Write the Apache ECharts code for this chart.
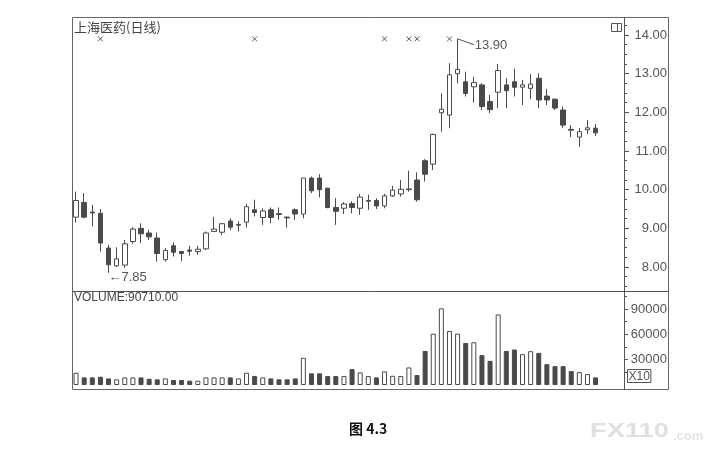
<!DOCTYPE html>
<html>
<head>
<meta charset="utf-8">
<script src="https://cdn.jsdelivr.net/npm/echarts@6/dist/echarts.min.js"></script>
<style>html,body{margin:0;padding:0;background:#fff;}#c{width:712px;height:459px;}</style>
</head>
<body>
<div id="c"></div>
<script>
// ---- data ----
var opens  = [9.29,9.67,9.42,9.39,8.49,8.03,8.05,8.66,9.00,8.88,8.75,8.19,8.55,8.40,8.44,8.40,8.47,8.92,8.90,9.19,9.08,9.16,9.48,9.28,9.48,9.38,9.29,9.48,9.37,10.30,10.30,10.04,9.54,9.52,9.64,9.52,9.70,9.72,9.58,9.84,9.89,10.00,10.25,10.75,10.66,11.99,11.93,13.00,12.79,12.66,12.71,12.28,12.52,12.71,12.79,12.65,12.62,12.88,12.42,12.34,12.06,11.56,11.36,11.55,11.59];
var closes = [9.72,9.29,9.40,8.62,8.06,8.21,8.60,8.98,8.86,8.78,8.35,8.43,8.38,8.35,8.41,8.46,8.88,8.98,9.12,9.03,9.10,9.56,9.41,9.45,9.28,9.36,9.27,9.37,10.30,9.97,10.00,9.54,9.44,9.63,9.54,9.81,9.72,9.58,9.84,9.99,10.01,10.02,9.74,10.40,11.43,12.08,12.97,13.11,12.49,12.77,12.15,12.07,13.08,12.56,12.65,12.71,12.73,12.32,12.32,12.11,11.67,11.54,11.50,11.60,11.47];
var lows   = [9.15,9.26,9.05,8.40,7.85,8.00,7.98,8.60,8.62,8.70,8.14,8.14,8.27,8.15,8.29,8.32,8.44,8.92,8.83,8.96,8.92,9.02,9.31,9.09,9.13,9.22,9.02,9.22,9.26,9.91,9.80,9.52,9.09,9.37,9.39,9.35,9.48,9.50,9.52,9.81,9.82,9.95,9.69,10.21,10.51,11.50,11.59,12.75,12.41,12.25,12.06,11.98,12.11,12.11,12.41,12.19,12.34,12.11,12.19,12.06,11.59,11.36,11.11,11.44,11.39];
var highs  = [9.95,9.91,9.61,9.50,8.57,8.51,8.70,9.03,9.13,8.96,8.89,8.49,8.64,8.41,8.55,8.55,8.92,9.30,9.13,9.26,9.18,9.63,9.74,9.52,9.54,9.54,9.31,9.52,10.30,10.34,10.40,10.05,9.78,9.68,9.70,9.89,9.87,9.78,9.89,10.10,10.25,10.49,10.45,10.79,11.45,12.49,13.27,13.90,13.05,12.92,12.75,12.45,13.25,12.88,13.13,12.84,12.99,13.01,12.60,12.36,12.15,11.67,11.59,11.80,11.70];
var volumes = [14500,9000,9000,9800,7800,6700,9000,9000,9000,7400,6700,7800,5900,5900,5100,5100,9000,9000,9000,9000,7800,14500,10600,9000,7800,6700,6700,7800,32100,13800,13800,10600,10600,10600,18800,14900,10600,9000,16100,10900,10600,20800,11800,40300,60800,90710,63900,60800,49800,50600,35300,28600,83500,40300,42000,36500,40000,38000,24700,22300,22300,16500,15300,12900,9000];
var emptySlots = 3;               // blank days at the right edge of the chart
var markerDays = [3,22,38,41,42,46]; // "×" info markers
var markerLevel = 13.90;
var highDay = 47, highValue = 13.90, lowDay = 4, lowValue = 7.85;
var priceTicks = [8,9,10,11,12,13,14];
var priceMinorTicks = [7.5,7.75,8.25,8.5,8.75,9.25,9.5,9.75,10.25,10.5,10.75,11.25,11.5,11.75,12.25,12.5,12.75,13.25,13.5,13.75,14.25];
var volumeTicks = [30000,60000,90000];
var volumeMinorTicks = [15000,45000,75000,105000];
var priceMin = 7.38, priceMax = 14.4655;
var volumeMax = 111300;

// ---- build ----
var days = [];
for (var i = 0; i < opens.length + emptySlots; i++) days.push(String(i + 1));
var candleData = opens.map(function (o, i) { return [o, closes[i], lows[i], highs[i]]; });
var INK = '#4a4a4a';
var volData = volumes.map(function (v, i) {
  var up = closes[i] >= opens[i];
  return { value: v, itemStyle: { color: up ? '#ffffff' : INK, borderColor: INK, borderWidth: 1 } };
});
var markerData = markerDays.map(function (d) { return [d, markerLevel]; });

var FONT = '"Liberation Sans", Arial, sans-serif';
var chart = echarts.init(document.getElementById('c'));
chart.setOption({
  animation: false,
  backgroundColor: '#fff',
  grid: [
    { left: 72, right: 88, top: 17, height: 274 },
    { left: 72, right: 88, top: 291, height: 94 }
  ],
  xAxis: [
    { type: 'category', gridIndex: 0, data: days, show: false },
    { type: 'category', gridIndex: 1, data: days, show: false }
  ],
  yAxis: [
    { type: 'value', gridIndex: 0, position: 'right', min: priceMin, max: priceMax,
      axisLine: { show: false }, splitLine: { show: false },
      axisTick: { show: true, length: 5, customValues: priceTicks, lineStyle: { color: '#555' } },
      axisLabel: { show: true, customValues: priceTicks, align: 'right', margin: 43, color: '#555',
        fontSize: 13, fontFamily: FONT, formatter: function (v) { return v.toFixed(2); } } },
    { type: 'value', gridIndex: 0, position: 'right', min: priceMin, max: priceMax,
      axisLine: { show: false }, splitLine: { show: false }, axisLabel: { show: false },
      axisTick: { show: true, length: 3, customValues: priceMinorTicks, lineStyle: { color: '#555' } } },
    { type: 'value', gridIndex: 1, position: 'right', min: 0, max: volumeMax,
      axisLine: { show: false }, splitLine: { show: false },
      axisTick: { show: true, length: 4, customValues: volumeTicks, lineStyle: { color: '#555' } },
      axisLabel: { show: true, customValues: volumeTicks, align: 'right', margin: 43, color: '#555',
        fontSize: 13, fontFamily: FONT, formatter: function (v) { return String(v); } } },
    { type: 'value', gridIndex: 1, position: 'right', min: 0, max: volumeMax,
      axisLine: { show: false }, splitLine: { show: false }, axisLabel: { show: false },
      axisTick: { show: true, length: 3, customValues: volumeMinorTicks, lineStyle: { color: '#555' } } }
  ],
  series: [
    { type: 'candlestick', xAxisIndex: 0, yAxisIndex: 0, data: candleData, barWidth: 5,
      itemStyle: { color: '#ffffff', color0: INK, borderColor: INK, borderColor0: INK, borderWidth: 1 },
      markPoint: {
        symbol: 'circle', symbolSize: 0,
        data: [{ coord: [lowDay, lowValue], label: { show: true, position: 'right', distance: 0, offset: [0, 5],
          formatter: '\u2190' + lowValue.toFixed(2), color: '#555', fontSize: 13, fontFamily: FONT } }]
      },
      markLine: {
        symbol: 'none', silent: true,
        lineStyle: { color: '#555', width: 1, type: 'solid' },
        data: [[{ coord: [highDay, highValue] }, { coord: [highDay + 2, highValue - 0.15] }]],
        label: { show: true, position: 'end', distance: 1, formatter: highValue.toFixed(2), color: '#555', fontSize: 13, fontFamily: FONT }
      }
    },
    { type: 'scatter', xAxisIndex: 0, yAxisIndex: 0, data: markerData, symbol: 'path://M0,0L10,10M10,0L0,10',
      symbolSize: 5, itemStyle: { color: 'none', borderColor: '#333', borderWidth: 1 } },
    { type: 'bar', xAxisIndex: 1, yAxisIndex: 2, data: volData, barWidth: 5 }
  ],
  graphic: [
    { type: 'rect', shape: { x: 72.5, y: 17.5, width: 596, height: 372 }, style: { fill: 'none', stroke: '#666', lineWidth: 1 }, silent: true },
    { type: 'line', shape: { x1: 624.5, y1: 17, x2: 624.5, y2: 390 }, style: { stroke: '#555', lineWidth: 1 }, silent: true },
    { type: 'line', shape: { x1: 72, y1: 291.5, x2: 669, y2: 291.5 }, style: { stroke: '#555', lineWidth: 1 }, silent: true },
    { type: 'rect', shape: { x: 611.5, y: 23.5, width: 10, height: 8 }, style: { fill: 'none', stroke: '#555', lineWidth: 1 } },
    { type: 'line', shape: { x1: 617.5, y1: 23.5, x2: 617.5, y2: 31.5 }, style: { stroke: '#555', lineWidth: 1 } },
    { type: 'text', left: 74, top: 21, style: { text: '上海医药(日线)', fill: '#444', font: '13px "Noto Sans CJK SC", sans-serif' } },
    { type: 'text', left: 74, top: 292, style: { text: 'VOLUME:90710.00', fill: '#444', font: '12px ' + FONT } },
    { type: 'text', left: 627, top: 369, style: { text: 'X10', fill: '#555', font: '12px ' + FONT, borderColor: '#555', borderWidth: 1, padding: [1, 1, 0, 1] } },
    { type: 'text', left: 349, top: 422, style: { text: '图 4.3', fill: '#111', font: 'bold 14px "Noto Sans CJK SC", sans-serif' } },
    { type: 'text', x: 590, y: 421, scaleX: 1.3, style: { text: 'FX110', fill: '#e0e0e0', font: 'bold 21px ' + FONT } },
    { type: 'text', left: 673, top: 430, style: { text: '.com', fill: '#e4e4e4', font: 'bold 13px ' + FONT } }
  ]
});
</script>
</body>
</html>
